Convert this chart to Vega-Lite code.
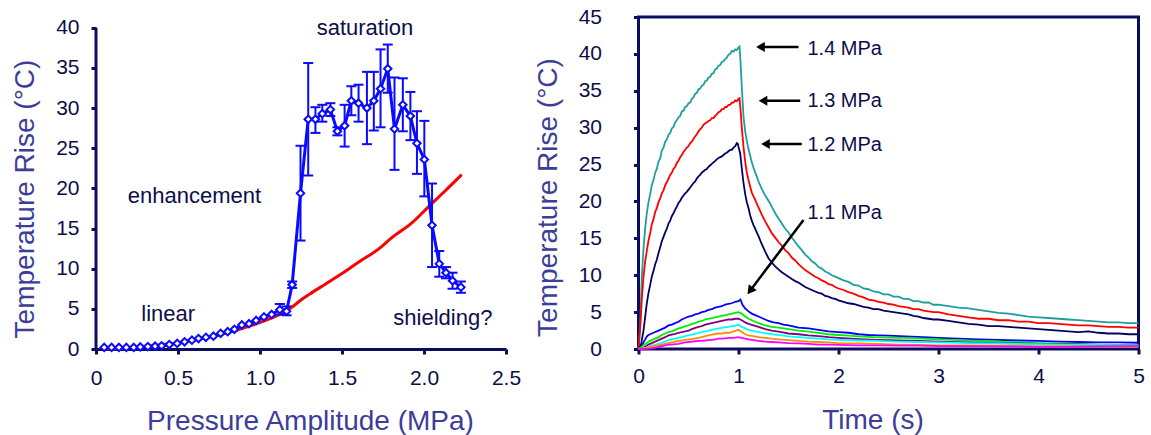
{
  "$schema": "https://vega.github.io/schema/vega-lite/v6.json",
  "background": "white",
  "padding": {"left": 11, "top": 4, "right": 5, "bottom": 0},
  "bounds": "flush",
  "spacing": 132.5,
  "config": {
    "font": "Liberation Sans",
    "view": {"stroke": null},
    "axis": {
      "labelFont": "Liberation Sans", "titleFont": "Liberation Sans",
      "labelFontSize": 21, "titleFontSize": 28, "titleFontWeight": "normal",
      "titleColor": "#3d3d99", "labelColor": "#0d0d4a",
      "domainColor": "#0d0d5e", "tickColor": "#0d0d5e",
      "domainWidth": 3, "tickWidth": 3, "tickSize": 5, "grid": false, "labelFlush": false, "labelOverlap": false, "labelBound": false
    }
  },
  "datasets": {
    "blue": [
      {"p":0.05,"t":0.2},{"p":0.095,"t":0.2},{"p":0.14,"t":0.2},{"p":0.185,"t":0.2},{"p":0.23,"t":0.2},
      {"p":0.27,"t":0.25},{"p":0.316,"t":0.3},{"p":0.36,"t":0.35},{"p":0.4,"t":0.4},{"p":0.447,"t":0.55},
      {"p":0.495,"t":0.7},{"p":0.54,"t":0.9},{"p":0.585,"t":1.1},{"p":0.625,"t":1.3},{"p":0.67,"t":1.45},
      {"p":0.716,"t":1.6},{"p":0.76,"t":1.95},{"p":0.803,"t":2.15},{"p":0.844,"t":2.45},{"p":0.889,"t":3.0},
      {"p":0.933,"t":3.15},{"p":0.976,"t":3.55},{"p":1.024,"t":4.0},{"p":1.071,"t":4.3},{"p":1.121,"t":4.9},
      {"p":1.162,"t":4.7},{"p":1.196,"t":8.0},{"p":1.247,"t":19.4},{"p":1.294,"t":28.6},{"p":1.338,"t":28.6},
      {"p":1.38,"t":29.3},{"p":1.429,"t":29.8},{"p":1.472,"t":27.1},{"p":1.516,"t":27.8},{"p":1.557,"t":30.9},
      {"p":1.601,"t":30.6},{"p":1.652,"t":30.0},{"p":1.694,"t":30.9},{"p":1.735,"t":32.4},{"p":1.779,"t":34.9},
      {"p":1.82,"t":27.4},{"p":1.871,"t":30.4},{"p":1.917,"t":29.0},{"p":1.957,"t":25.6},{"p":2.002,"t":23.6},
      {"p":2.049,"t":15.4},{"p":2.093,"t":10.6},{"p":2.134,"t":9.5},{"p":2.174,"t":8.5},{"p":2.225,"t":7.7}
    ],
    "errs": [
      {"p":1.121,"lo":4.3,"hi":5.6},{"p":1.162,"lo":4.2,"hi":5.3},{"p":1.196,"lo":7.6,"hi":8.4},
      {"p":1.247,"lo":13.5,"hi":25.3},{"p":1.294,"lo":21.6,"hi":35.6},{"p":1.338,"lo":26.9,"hi":30.1},
      {"p":1.38,"lo":28.3,"hi":30.4},{"p":1.429,"lo":29.0,"hi":30.6},{"p":1.472,"lo":26.6,"hi":27.6},
      {"p":1.516,"lo":25.2,"hi":30.4},{"p":1.557,"lo":29.1,"hi":32.7},{"p":1.601,"lo":28.3,"hi":32.9},
      {"p":1.652,"lo":25.5,"hi":34.5},{"p":1.694,"lo":27.2,"hi":34.5},{"p":1.735,"lo":27.6,"hi":37.3},
      {"p":1.779,"lo":31.9,"hi":37.9},{"p":1.82,"lo":22.3,"hi":33.8},{"p":1.871,"lo":27.1,"hi":33.7},
      {"p":1.917,"lo":26.0,"hi":32.0},{"p":1.957,"lo":21.8,"hi":29.6},{"p":2.002,"lo":19.0,"hi":28.4},
      {"p":2.049,"lo":10.2,"hi":20.6},{"p":2.093,"lo":9.0,"hi":12.2},{"p":2.134,"lo":8.8,"hi":10.2},
      {"p":2.174,"lo":7.5,"hi":9.5},{"p":2.225,"lo":7.0,"hi":8.4}
    ],
    "red": [
      {"p":0.05,"t":0.02},{"p":0.15,"t":0.1},{"p":0.25,"t":0.25},{"p":0.35,"t":0.45},{"p":0.45,"t":0.65},
      {"p":0.55,"t":0.95},{"p":0.65,"t":1.3},{"p":0.75,"t":1.75},{"p":0.85,"t":2.3},{"p":0.95,"t":2.95},
      {"p":1.05,"t":3.7},{"p":1.15,"t":4.6},{"p":1.2,"t":5.3},{"p":1.25,"t":6.1},{"p":1.3,"t":6.8},
      {"p":1.4,"t":8.1},{"p":1.5,"t":9.4},{"p":1.6,"t":10.8},{"p":1.72,"t":12.4},{"p":1.8,"t":13.8},
      {"p":1.926,"t":15.7},{"p":2.027,"t":17.7},{"p":2.13,"t":19.7},{"p":2.23,"t":21.7}
    ],
    "notesL": [
      {"p":1.64,"t":40.0,"label":"saturation"},
      {"p":0.6,"t":19.1,"label":"enhancement"},
      {"p":0.44,"t":4.3,"label":"linear"},
      {"p":2.115,"t":3.9,"label":"shielding?"}
    ],
    "axisL": [{"p":0,"t":0,"t2":40}],
    "arrows": [
      {"label":"1.4 MPa","tx":1.69,"ty":40.6,"ax":1.6,"ay":40.95,"hx":1.22,"hy":40.95},
      {"label":"1.3 MPa","tx":1.69,"ty":33.6,"ax":1.617,"ay":33.65,"hx":1.245,"hy":33.65},
      {"label":"1.2 MPa","tx":1.69,"ty":27.7,"ax":1.633,"ay":27.8,"hx":1.27,"hy":27.8},
      {"label":"1.1 MPa","tx":1.69,"ty":18.4,"ax":1.65,"ay":17.5,"hx":1.116,"hy":7.9}
    ],
    "curves": [
      {"s":"A","t":0,"v":0},{"s":"A","t":0.017,"v":3.0},{"s":"A","t":0.033,"v":9.8},{"s":"A","t":0.05,"v":13.6},{"s":"A","t":0.067,"v":16.4},{"s":"A","t":0.083,"v":18.4},{"s":"A","t":0.1,"v":19.9},{"s":"A","t":0.117,"v":21.0},{"s":"A","t":0.133,"v":22.2},{"s":"A","t":0.15,"v":22.9},{"s":"A","t":0.167,"v":23.9},{"s":"A","t":0.183,"v":24.4},{"s":"A","t":0.2,"v":25.4},{"s":"A","t":0.217,"v":25.8},{"s":"A","t":0.233,"v":26.9},{"s":"A","t":0.25,"v":27.3},{"s":"A","t":0.267,"v":28.1},{"s":"A","t":0.283,"v":28.4},{"s":"A","t":0.3,"v":29.0},{"s":"A","t":0.317,"v":29.3},{"s":"A","t":0.333,"v":29.9},{"s":"A","t":0.35,"v":30.1},{"s":"A","t":0.367,"v":30.7},{"s":"A","t":0.383,"v":31.0},{"s":"A","t":0.4,"v":31.4},{"s":"A","t":0.417,"v":31.6},{"s":"A","t":0.433,"v":32.2},{"s":"A","t":0.45,"v":32.3},{"s":"A","t":0.467,"v":32.8},{"s":"A","t":0.483,"v":32.9},{"s":"A","t":0.5,"v":33.3},{"s":"A","t":0.517,"v":33.4},{"s":"A","t":0.533,"v":33.9},{"s":"A","t":0.55,"v":34.1},{"s":"A","t":0.567,"v":34.6},{"s":"A","t":0.583,"v":34.7},{"s":"A","t":0.6,"v":35.2},{"s":"A","t":0.617,"v":35.3},{"s":"A","t":0.633,"v":35.7},{"s":"A","t":0.65,"v":35.8},{"s":"A","t":0.667,"v":36.3},{"s":"A","t":0.683,"v":36.4},{"s":"A","t":0.7,"v":36.8},{"s":"A","t":0.717,"v":36.9},{"s":"A","t":0.733,"v":37.3},{"s":"A","t":0.75,"v":37.4},{"s":"A","t":0.767,"v":37.9},{"s":"A","t":0.783,"v":38.0},{"s":"A","t":0.8,"v":38.4},{"s":"A","t":0.817,"v":38.5},{"s":"A","t":0.833,"v":38.9},{"s":"A","t":0.85,"v":39.0},{"s":"A","t":0.867,"v":39.3},{"s":"A","t":0.883,"v":39.5},{"s":"A","t":0.9,"v":39.9},{"s":"A","t":0.917,"v":40.0},{"s":"A","t":0.933,"v":40.4},{"s":"A","t":0.95,"v":40.3},{"s":"A","t":0.967,"v":40.6},{"s":"A","t":0.983,"v":40.5},{"s":"A","t":1.0,"v":40.9},{"s":"A","t":1.01,"v":41.0},{"s":"A","t":1.02,"v":39.0},{"s":"A","t":1.033,"v":35.5},{"s":"A","t":1.05,"v":31.5},{"s":"A","t":1.067,"v":29.5},{"s":"A","t":1.083,"v":28.2},{"s":"A","t":1.1,"v":27.1},{"s":"A","t":1.117,"v":26.2},{"s":"A","t":1.133,"v":25.3},{"s":"A","t":1.15,"v":24.6},{"s":"A","t":1.167,"v":23.9},{"s":"A","t":1.183,"v":23.4},{"s":"A","t":1.2,"v":22.7},{"s":"A","t":1.233,"v":21.7},{"s":"A","t":1.267,"v":20.8},{"s":"A","t":1.3,"v":20.1},{"s":"A","t":1.333,"v":19.3},{"s":"A","t":1.367,"v":18.4},{"s":"A","t":1.4,"v":17.7},{"s":"A","t":1.433,"v":17.0},{"s":"A","t":1.467,"v":16.3},{"s":"A","t":1.5,"v":15.8},{"s":"A","t":1.533,"v":15.1},{"s":"A","t":1.567,"v":14.5},{"s":"A","t":1.6,"v":13.9},{"s":"A","t":1.633,"v":13.4},{"s":"A","t":1.667,"v":12.8},{"s":"A","t":1.7,"v":12.4},{"s":"A","t":1.733,"v":11.9},{"s":"A","t":1.767,"v":11.6},{"s":"A","t":1.8,"v":11.1},{"s":"A","t":1.833,"v":10.9},{"s":"A","t":1.867,"v":10.5},{"s":"A","t":1.9,"v":10.3},{"s":"A","t":1.933,"v":10.0},{"s":"A","t":1.967,"v":9.8},{"s":"A","t":2.0,"v":9.6},{"s":"A","t":2.05,"v":9.3},{"s":"A","t":2.1,"v":9.1},{"s":"A","t":2.15,"v":8.7},{"s":"A","t":2.2,"v":8.6},{"s":"A","t":2.25,"v":8.2},{"s":"A","t":2.3,"v":8.1},{"s":"A","t":2.35,"v":7.8},{"s":"A","t":2.4,"v":7.7},{"s":"A","t":2.45,"v":7.4},{"s":"A","t":2.5,"v":7.4},{"s":"A","t":2.55,"v":7.1},{"s":"A","t":2.6,"v":7.1},{"s":"A","t":2.65,"v":6.8},{"s":"A","t":2.7,"v":6.8},{"s":"A","t":2.75,"v":6.5},{"s":"A","t":2.8,"v":6.5},{"s":"A","t":2.85,"v":6.3},{"s":"A","t":2.9,"v":6.3},{"s":"A","t":2.95,"v":6.0},{"s":"A","t":3.0,"v":6.0},{"s":"A","t":3.1,"v":5.8},{"s":"A","t":3.2,"v":5.6},{"s":"A","t":3.3,"v":5.5},{"s":"A","t":3.4,"v":5.3},{"s":"A","t":3.5,"v":5.1},{"s":"A","t":3.6,"v":4.9},{"s":"A","t":3.7,"v":4.8},{"s":"A","t":3.8,"v":4.6},{"s":"A","t":3.9,"v":4.4},{"s":"A","t":4.0,"v":4.3},{"s":"A","t":4.1,"v":4.2},{"s":"A","t":4.2,"v":4.1},{"s":"A","t":4.3,"v":4.0},{"s":"A","t":4.4,"v":3.9},{"s":"A","t":4.5,"v":3.8},{"s":"A","t":4.6,"v":3.7},{"s":"A","t":4.7,"v":3.6},{"s":"A","t":4.8,"v":3.6},{"s":"A","t":4.9,"v":3.5},{"s":"A","t":5.0,"v":3.5},

      {"s":"B","t":0,"v":0},{"s":"B","t":0.017,"v":3.0},{"s":"B","t":0.027,"v":5.3},{"s":"B","t":0.033,"v":6.8},{"s":"B","t":0.05,"v":9.8},{"s":"B","t":0.067,"v":11.9},{"s":"B","t":0.083,"v":13.3},{"s":"B","t":0.1,"v":14.7},{"s":"B","t":0.117,"v":15.7},{"s":"B","t":0.133,"v":16.9},{"s":"B","t":0.15,"v":17.6},{"s":"B","t":0.167,"v":18.6},{"s":"B","t":0.183,"v":19.1},{"s":"B","t":0.2,"v":19.9},{"s":"B","t":0.217,"v":20.4},{"s":"B","t":0.233,"v":21.1},{"s":"B","t":0.25,"v":21.5},{"s":"B","t":0.267,"v":22.2},{"s":"B","t":0.283,"v":22.6},{"s":"B","t":0.3,"v":23.1},{"s":"B","t":0.317,"v":23.6},{"s":"B","t":0.333,"v":23.9},{"s":"B","t":0.35,"v":24.4},{"s":"B","t":0.367,"v":24.7},{"s":"B","t":0.383,"v":25.2},{"s":"B","t":0.4,"v":25.5},{"s":"B","t":0.417,"v":26.0},{"s":"B","t":0.433,"v":26.3},{"s":"B","t":0.45,"v":26.7},{"s":"B","t":0.467,"v":27.0},{"s":"B","t":0.483,"v":27.3},{"s":"B","t":0.5,"v":27.5},{"s":"B","t":0.517,"v":27.9},{"s":"B","t":0.533,"v":28.1},{"s":"B","t":0.55,"v":28.5},{"s":"B","t":0.567,"v":28.8},{"s":"B","t":0.583,"v":29.1},{"s":"B","t":0.6,"v":29.5},{"s":"B","t":0.617,"v":29.8},{"s":"B","t":0.633,"v":30.0},{"s":"B","t":0.65,"v":30.4},{"s":"B","t":0.667,"v":30.6},{"s":"B","t":0.683,"v":30.7},{"s":"B","t":0.7,"v":30.9},{"s":"B","t":0.717,"v":31.0},{"s":"B","t":0.733,"v":31.3},{"s":"B","t":0.75,"v":31.3},{"s":"B","t":0.767,"v":31.6},{"s":"B","t":0.783,"v":31.8},{"s":"B","t":0.8,"v":32.1},{"s":"B","t":0.817,"v":32.2},{"s":"B","t":0.833,"v":32.5},{"s":"B","t":0.85,"v":32.5},{"s":"B","t":0.867,"v":32.8},{"s":"B","t":0.883,"v":32.8},{"s":"B","t":0.9,"v":33.1},{"s":"B","t":0.917,"v":33.1},{"s":"B","t":0.933,"v":33.4},{"s":"B","t":0.95,"v":33.4},{"s":"B","t":0.967,"v":33.7},{"s":"B","t":0.983,"v":33.6},{"s":"B","t":1.0,"v":33.9},{"s":"B","t":1.01,"v":34.0},{"s":"B","t":1.02,"v":32.5},{"s":"B","t":1.033,"v":30.0},{"s":"B","t":1.05,"v":27.4},{"s":"B","t":1.067,"v":25.4},{"s":"B","t":1.083,"v":23.9},{"s":"B","t":1.1,"v":22.9},{"s":"B","t":1.117,"v":22.0},{"s":"B","t":1.133,"v":21.2},{"s":"B","t":1.15,"v":20.7},{"s":"B","t":1.167,"v":20.2},{"s":"B","t":1.183,"v":19.7},{"s":"B","t":1.2,"v":19.2},{"s":"B","t":1.233,"v":18.2},{"s":"B","t":1.267,"v":17.3},{"s":"B","t":1.3,"v":16.5},{"s":"B","t":1.333,"v":15.7},{"s":"B","t":1.367,"v":15.1},{"s":"B","t":1.4,"v":14.5},{"s":"B","t":1.433,"v":14.0},{"s":"B","t":1.467,"v":13.4},{"s":"B","t":1.5,"v":13.0},{"s":"B","t":1.533,"v":12.4},{"s":"B","t":1.567,"v":12.0},{"s":"B","t":1.6,"v":11.5},{"s":"B","t":1.633,"v":11.1},{"s":"B","t":1.667,"v":10.7},{"s":"B","t":1.7,"v":10.4},{"s":"B","t":1.733,"v":10.1},{"s":"B","t":1.767,"v":9.8},{"s":"B","t":1.8,"v":9.6},{"s":"B","t":1.833,"v":9.3},{"s":"B","t":1.867,"v":9.1},{"s":"B","t":1.9,"v":8.8},{"s":"B","t":1.933,"v":8.7},{"s":"B","t":1.967,"v":8.4},{"s":"B","t":2.0,"v":8.2},{"s":"B","t":2.05,"v":8.0},{"s":"B","t":2.1,"v":7.7},{"s":"B","t":2.15,"v":7.5},{"s":"B","t":2.2,"v":7.2},{"s":"B","t":2.25,"v":7.0},{"s":"B","t":2.3,"v":6.7},{"s":"B","t":2.35,"v":6.6},{"s":"B","t":2.4,"v":6.4},{"s":"B","t":2.45,"v":6.3},{"s":"B","t":2.5,"v":6.1},{"s":"B","t":2.55,"v":6.0},{"s":"B","t":2.6,"v":5.8},{"s":"B","t":2.65,"v":5.7},{"s":"B","t":2.7,"v":5.6},{"s":"B","t":2.75,"v":5.4},{"s":"B","t":2.8,"v":5.4},{"s":"B","t":2.85,"v":5.2},{"s":"B","t":2.9,"v":5.1},{"s":"B","t":2.95,"v":5.0},{"s":"B","t":3.0,"v":5.0},{"s":"B","t":3.1,"v":4.7},{"s":"B","t":3.2,"v":4.5},{"s":"B","t":3.3,"v":4.3},{"s":"B","t":3.4,"v":4.1},{"s":"B","t":3.5,"v":4.1},{"s":"B","t":3.6,"v":3.9},{"s":"B","t":3.7,"v":3.9},{"s":"B","t":3.8,"v":3.7},{"s":"B","t":3.9,"v":3.7},{"s":"B","t":4.0,"v":3.5},{"s":"B","t":4.1,"v":3.5},{"s":"B","t":4.2,"v":3.4},{"s":"B","t":4.3,"v":3.3},{"s":"B","t":4.4,"v":3.2},{"s":"B","t":4.5,"v":3.2},{"s":"B","t":4.6,"v":3.1},{"s":"B","t":4.7,"v":3.0},{"s":"B","t":4.8,"v":3.0},{"s":"B","t":4.9,"v":2.9},{"s":"B","t":5.0,"v":2.9},

      {"s":"C","t":0,"v":0},{"s":"C","t":0.017,"v":0.3},{"s":"C","t":0.027,"v":0.7},{"s":"C","t":0.033,"v":1.2},{"s":"C","t":0.05,"v":2.5},{"s":"C","t":0.067,"v":4.4},{"s":"C","t":0.083,"v":6.2},{"s":"C","t":0.1,"v":7.6},{"s":"C","t":0.117,"v":8.7},{"s":"C","t":0.133,"v":9.8},{"s":"C","t":0.15,"v":10.6},{"s":"C","t":0.167,"v":11.5},{"s":"C","t":0.183,"v":12.1},{"s":"C","t":0.2,"v":13.0},{"s":"C","t":0.217,"v":13.8},{"s":"C","t":0.233,"v":14.6},{"s":"C","t":0.25,"v":15.2},{"s":"C","t":0.267,"v":15.8},{"s":"C","t":0.283,"v":16.3},{"s":"C","t":0.3,"v":17.0},{"s":"C","t":0.317,"v":17.4},{"s":"C","t":0.333,"v":18.0},{"s":"C","t":0.35,"v":18.4},{"s":"C","t":0.367,"v":18.9},{"s":"C","t":0.383,"v":19.3},{"s":"C","t":0.4,"v":19.8},{"s":"C","t":0.417,"v":20.1},{"s":"C","t":0.433,"v":20.5},{"s":"C","t":0.45,"v":20.8},{"s":"C","t":0.467,"v":21.1},{"s":"C","t":0.483,"v":21.3},{"s":"C","t":0.5,"v":21.6},{"s":"C","t":0.517,"v":21.9},{"s":"C","t":0.533,"v":22.2},{"s":"C","t":0.55,"v":22.5},{"s":"C","t":0.567,"v":22.7},{"s":"C","t":0.583,"v":23.1},{"s":"C","t":0.6,"v":23.4},{"s":"C","t":0.617,"v":23.6},{"s":"C","t":0.633,"v":23.9},{"s":"C","t":0.65,"v":24.1},{"s":"C","t":0.667,"v":24.3},{"s":"C","t":0.683,"v":24.4},{"s":"C","t":0.7,"v":24.7},{"s":"C","t":0.717,"v":24.9},{"s":"C","t":0.733,"v":25.1},{"s":"C","t":0.75,"v":25.3},{"s":"C","t":0.767,"v":25.5},{"s":"C","t":0.783,"v":25.7},{"s":"C","t":0.8,"v":25.9},{"s":"C","t":0.817,"v":26.0},{"s":"C","t":0.833,"v":26.1},{"s":"C","t":0.85,"v":26.3},{"s":"C","t":0.867,"v":26.5},{"s":"C","t":0.883,"v":26.6},{"s":"C","t":0.9,"v":26.8},{"s":"C","t":0.917,"v":27.0},{"s":"C","t":0.933,"v":27.0},{"s":"C","t":0.95,"v":27.3},{"s":"C","t":0.967,"v":27.5},{"s":"C","t":0.983,"v":27.9},{"s":"C","t":0.993,"v":27.8},{"s":"C","t":1.0,"v":27.4},{"s":"C","t":1.017,"v":26.5},{"s":"C","t":1.033,"v":24.5},{"s":"C","t":1.05,"v":22.5},{"s":"C","t":1.067,"v":21.0},{"s":"C","t":1.083,"v":19.9},{"s":"C","t":1.1,"v":19.1},{"s":"C","t":1.117,"v":18.1},{"s":"C","t":1.133,"v":17.4},{"s":"C","t":1.15,"v":16.8},{"s":"C","t":1.167,"v":16.3},{"s":"C","t":1.183,"v":15.8},{"s":"C","t":1.2,"v":15.3},{"s":"C","t":1.233,"v":14.2},{"s":"C","t":1.267,"v":13.2},{"s":"C","t":1.3,"v":12.3},{"s":"C","t":1.333,"v":11.7},{"s":"C","t":1.367,"v":11.2},{"s":"C","t":1.4,"v":10.8},{"s":"C","t":1.433,"v":10.4},{"s":"C","t":1.467,"v":10.1},{"s":"C","t":1.5,"v":9.8},{"s":"C","t":1.533,"v":9.5},{"s":"C","t":1.567,"v":9.2},{"s":"C","t":1.6,"v":9.0},{"s":"C","t":1.633,"v":8.7},{"s":"C","t":1.667,"v":8.4},{"s":"C","t":1.7,"v":8.2},{"s":"C","t":1.733,"v":8.0},{"s":"C","t":1.767,"v":7.8},{"s":"C","t":1.8,"v":7.6},{"s":"C","t":1.833,"v":7.5},{"s":"C","t":1.867,"v":7.2},{"s":"C","t":1.9,"v":7.1},{"s":"C","t":1.933,"v":6.9},{"s":"C","t":1.967,"v":6.8},{"s":"C","t":2.0,"v":6.6},{"s":"C","t":2.05,"v":6.4},{"s":"C","t":2.1,"v":6.2},{"s":"C","t":2.15,"v":6.1},{"s":"C","t":2.2,"v":5.9},{"s":"C","t":2.25,"v":5.7},{"s":"C","t":2.3,"v":5.6},{"s":"C","t":2.35,"v":5.4},{"s":"C","t":2.4,"v":5.4},{"s":"C","t":2.45,"v":5.2},{"s":"C","t":2.5,"v":5.1},{"s":"C","t":2.55,"v":5.0},{"s":"C","t":2.6,"v":4.9},{"s":"C","t":2.65,"v":4.8},{"s":"C","t":2.7,"v":4.7},{"s":"C","t":2.75,"v":4.5},{"s":"C","t":2.8,"v":4.4},{"s":"C","t":2.85,"v":4.2},{"s":"C","t":2.9,"v":4.1},{"s":"C","t":2.95,"v":4.0},{"s":"C","t":3.0,"v":4.0},{"s":"C","t":3.1,"v":3.8},{"s":"C","t":3.2,"v":3.6},{"s":"C","t":3.3,"v":3.4},{"s":"C","t":3.4,"v":3.3},{"s":"C","t":3.5,"v":3.1},{"s":"C","t":3.6,"v":3.1},{"s":"C","t":3.7,"v":3.0},{"s":"C","t":3.8,"v":2.9},{"s":"C","t":3.9,"v":2.8},{"s":"C","t":4.0,"v":2.7},{"s":"C","t":4.1,"v":2.6},{"s":"C","t":4.2,"v":2.5},{"s":"C","t":4.3,"v":2.4},{"s":"C","t":4.4,"v":2.3},{"s":"C","t":4.5,"v":2.4},{"s":"C","t":4.6,"v":2.2},{"s":"C","t":4.7,"v":2.1},{"s":"C","t":4.8,"v":2.1},{"s":"C","t":4.9,"v":2.0},{"s":"C","t":5.0,"v":2.0},

      {"s":"D","t":0,"v":0},{"s":"D","t":0.033,"v":0.4},{"s":"D","t":0.05,"v":0.9},{"s":"D","t":0.067,"v":1.3},{"s":"D","t":0.083,"v":1.7},{"s":"D","t":0.1,"v":1.9},{"s":"D","t":0.133,"v":2.1},{"s":"D","t":0.167,"v":2.3},{"s":"D","t":0.2,"v":2.5},{"s":"D","t":0.233,"v":2.7},{"s":"D","t":0.267,"v":2.9},{"s":"D","t":0.3,"v":3.2},{"s":"D","t":0.333,"v":3.3},{"s":"D","t":0.367,"v":3.5},{"s":"D","t":0.4,"v":3.7},{"s":"D","t":0.433,"v":4.0},{"s":"D","t":0.467,"v":4.2},{"s":"D","t":0.5,"v":4.4},{"s":"D","t":0.533,"v":4.5},{"s":"D","t":0.567,"v":4.7},{"s":"D","t":0.6,"v":4.8},{"s":"D","t":0.633,"v":5.0},{"s":"D","t":0.667,"v":5.1},{"s":"D","t":0.7,"v":5.3},{"s":"D","t":0.733,"v":5.4},{"s":"D","t":0.767,"v":5.6},{"s":"D","t":0.8,"v":5.7},{"s":"D","t":0.833,"v":5.8},{"s":"D","t":0.867,"v":6.0},{"s":"D","t":0.9,"v":6.1},{"s":"D","t":0.933,"v":6.2},{"s":"D","t":0.967,"v":6.4},{"s":"D","t":1.0,"v":6.5},{"s":"D","t":1.02,"v":6.7},{"s":"D","t":1.04,"v":6.0},{"s":"D","t":1.067,"v":5.5},{"s":"D","t":1.1,"v":5.1},{"s":"D","t":1.133,"v":4.8},{"s":"D","t":1.167,"v":4.6},{"s":"D","t":1.2,"v":4.4},{"s":"D","t":1.25,"v":4.1},{"s":"D","t":1.3,"v":3.8},{"s":"D","t":1.35,"v":3.6},{"s":"D","t":1.4,"v":3.5},{"s":"D","t":1.45,"v":3.3},{"s":"D","t":1.5,"v":3.2},{"s":"D","t":1.6,"v":2.9},{"s":"D","t":1.7,"v":2.8},{"s":"D","t":1.8,"v":2.6},{"s":"D","t":1.9,"v":2.4},{"s":"D","t":2.0,"v":2.3},{"s":"D","t":2.1,"v":2.2},{"s":"D","t":2.2,"v":2.0},{"s":"D","t":2.3,"v":1.9},{"s":"D","t":2.4,"v":1.85},{"s":"D","t":2.5,"v":1.8},{"s":"D","t":2.67,"v":1.7},{"s":"D","t":2.85,"v":1.6},{"s":"D","t":3.0,"v":1.5},{"s":"D","t":3.2,"v":1.4},{"s":"D","t":3.4,"v":1.3},{"s":"D","t":3.6,"v":1.25},{"s":"D","t":3.8,"v":1.15},{"s":"D","t":4.0,"v":1.1},{"s":"D","t":4.2,"v":1.0},{"s":"D","t":4.4,"v":0.95},{"s":"D","t":4.6,"v":0.9},{"s":"D","t":4.8,"v":0.9},{"s":"D","t":5.0,"v":0.85},

      {"s":"E","t":0,"v":0},{"s":"E","t":0.033,"v":0.3},{"s":"E","t":0.05,"v":0.5},{"s":"E","t":0.083,"v":0.8},{"s":"E","t":0.1,"v":1.0},{"s":"E","t":0.133,"v":1.2},{"s":"E","t":0.167,"v":1.4},{"s":"E","t":0.2,"v":1.6},{"s":"E","t":0.233,"v":1.9},{"s":"E","t":0.267,"v":2.1},{"s":"E","t":0.3,"v":2.3},{"s":"E","t":0.333,"v":2.4},{"s":"E","t":0.367,"v":2.6},{"s":"E","t":0.4,"v":2.8},{"s":"E","t":0.433,"v":2.9},{"s":"E","t":0.467,"v":3.1},{"s":"E","t":0.5,"v":3.2},{"s":"E","t":0.533,"v":3.4},{"s":"E","t":0.567,"v":3.5},{"s":"E","t":0.6,"v":3.7},{"s":"E","t":0.633,"v":3.8},{"s":"E","t":0.667,"v":4.0},{"s":"E","t":0.7,"v":4.1},{"s":"E","t":0.733,"v":4.2},{"s":"E","t":0.767,"v":4.3},{"s":"E","t":0.8,"v":4.4},{"s":"E","t":0.833,"v":4.5},{"s":"E","t":0.867,"v":4.6},{"s":"E","t":0.9,"v":4.7},{"s":"E","t":0.933,"v":4.8},{"s":"E","t":0.967,"v":4.9},{"s":"E","t":1.0,"v":5.0},{"s":"E","t":1.033,"v":4.8},{"s":"E","t":1.067,"v":4.4},{"s":"E","t":1.1,"v":4.1},{"s":"E","t":1.15,"v":3.8},{"s":"E","t":1.2,"v":3.5},{"s":"E","t":1.267,"v":3.2},{"s":"E","t":1.333,"v":3.0},{"s":"E","t":1.4,"v":2.9},{"s":"E","t":1.5,"v":2.7},{"s":"E","t":1.6,"v":2.5},{"s":"E","t":1.7,"v":2.35},{"s":"E","t":1.8,"v":2.2},{"s":"E","t":1.9,"v":2.0},{"s":"E","t":2.0,"v":1.9},{"s":"E","t":2.1,"v":1.8},{"s":"E","t":2.2,"v":1.7},{"s":"E","t":2.35,"v":1.6},{"s":"E","t":2.5,"v":1.55},{"s":"E","t":2.67,"v":1.5},{"s":"E","t":2.85,"v":1.4},{"s":"E","t":3.0,"v":1.3},{"s":"E","t":3.2,"v":1.2},{"s":"E","t":3.4,"v":1.1},{"s":"E","t":3.6,"v":1.0},{"s":"E","t":3.8,"v":0.9},{"s":"E","t":4.0,"v":0.8},{"s":"E","t":4.2,"v":0.75},{"s":"E","t":4.4,"v":0.7},{"s":"E","t":4.6,"v":0.6},{"s":"E","t":4.8,"v":0.55},{"s":"E","t":5.0,"v":0.5},

      {"s":"F","t":0,"v":0},{"s":"F","t":0.05,"v":0.15},{"s":"F","t":0.067,"v":0.3},{"s":"F","t":0.1,"v":0.6},{"s":"F","t":0.133,"v":0.8},{"s":"F","t":0.167,"v":1.0},{"s":"F","t":0.2,"v":1.2},{"s":"F","t":0.233,"v":1.4},{"s":"F","t":0.267,"v":1.6},{"s":"F","t":0.3,"v":1.85},{"s":"F","t":0.333,"v":1.95},{"s":"F","t":0.367,"v":2.05},{"s":"F","t":0.4,"v":2.2},{"s":"F","t":0.433,"v":2.3},{"s":"F","t":0.467,"v":2.4},{"s":"F","t":0.5,"v":2.5},{"s":"F","t":0.533,"v":2.7},{"s":"F","t":0.567,"v":2.85},{"s":"F","t":0.6,"v":3.0},{"s":"F","t":0.633,"v":3.1},{"s":"F","t":0.667,"v":3.3},{"s":"F","t":0.7,"v":3.4},{"s":"F","t":0.733,"v":3.5},{"s":"F","t":0.767,"v":3.6},{"s":"F","t":0.8,"v":3.7},{"s":"F","t":0.833,"v":3.8},{"s":"F","t":0.867,"v":3.9},{"s":"F","t":0.9,"v":4.0},{"s":"F","t":0.933,"v":4.0},{"s":"F","t":0.967,"v":4.1},{"s":"F","t":1.0,"v":4.1},{"s":"F","t":1.033,"v":3.9},{"s":"F","t":1.067,"v":3.6},{"s":"F","t":1.1,"v":3.4},{"s":"F","t":1.15,"v":3.2},{"s":"F","t":1.2,"v":3.0},{"s":"F","t":1.267,"v":2.7},{"s":"F","t":1.333,"v":2.5},{"s":"F","t":1.4,"v":2.35},{"s":"F","t":1.5,"v":2.1},{"s":"F","t":1.6,"v":2.0},{"s":"F","t":1.7,"v":1.85},{"s":"F","t":1.8,"v":1.75},{"s":"F","t":1.9,"v":1.6},{"s":"F","t":2.0,"v":1.5},{"s":"F","t":2.2,"v":1.35},{"s":"F","t":2.4,"v":1.25},{"s":"F","t":2.6,"v":1.15},{"s":"F","t":2.8,"v":1.1},{"s":"F","t":3.0,"v":1.0},{"s":"F","t":3.3,"v":0.9},{"s":"F","t":3.6,"v":0.8},{"s":"F","t":4.0,"v":0.7},{"s":"F","t":4.3,"v":0.65},{"s":"F","t":4.6,"v":0.55},{"s":"F","t":5.0,"v":0.5},

      {"s":"G","t":0,"v":0},{"s":"G","t":0.067,"v":0.1},{"s":"G","t":0.1,"v":0.3},{"s":"G","t":0.133,"v":0.45},{"s":"G","t":0.167,"v":0.55},{"s":"G","t":0.2,"v":0.7},{"s":"G","t":0.233,"v":0.85},{"s":"G","t":0.267,"v":1.0},{"s":"G","t":0.3,"v":1.2},{"s":"G","t":0.333,"v":1.3},{"s":"G","t":0.367,"v":1.4},{"s":"G","t":0.4,"v":1.5},{"s":"G","t":0.433,"v":1.6},{"s":"G","t":0.467,"v":1.75},{"s":"G","t":0.5,"v":1.85},{"s":"G","t":0.533,"v":1.95},{"s":"G","t":0.567,"v":2.05},{"s":"G","t":0.6,"v":2.2},{"s":"G","t":0.633,"v":2.3},{"s":"G","t":0.667,"v":2.4},{"s":"G","t":0.7,"v":2.5},{"s":"G","t":0.733,"v":2.6},{"s":"G","t":0.767,"v":2.7},{"s":"G","t":0.8,"v":2.8},{"s":"G","t":0.833,"v":2.85},{"s":"G","t":0.867,"v":2.95},{"s":"G","t":0.9,"v":3.0},{"s":"G","t":0.933,"v":3.1},{"s":"G","t":0.967,"v":3.15},{"s":"G","t":1.0,"v":3.3},{"s":"G","t":1.033,"v":3.0},{"s":"G","t":1.067,"v":2.8},{"s":"G","t":1.1,"v":2.6},{"s":"G","t":1.15,"v":2.45},{"s":"G","t":1.2,"v":2.3},{"s":"G","t":1.267,"v":2.15},{"s":"G","t":1.333,"v":2.0},{"s":"G","t":1.4,"v":1.9},{"s":"G","t":1.5,"v":1.7},{"s":"G","t":1.6,"v":1.6},{"s":"G","t":1.7,"v":1.5},{"s":"G","t":1.8,"v":1.4},{"s":"G","t":1.9,"v":1.3},{"s":"G","t":2.0,"v":1.25},{"s":"G","t":2.2,"v":1.15},{"s":"G","t":2.4,"v":1.1},{"s":"G","t":2.6,"v":1.0},{"s":"G","t":2.8,"v":0.95},{"s":"G","t":3.0,"v":0.9},{"s":"G","t":3.3,"v":0.8},{"s":"G","t":3.6,"v":0.75},{"s":"G","t":4.0,"v":0.65},{"s":"G","t":4.3,"v":0.6},{"s":"G","t":4.6,"v":0.55},{"s":"G","t":5.0,"v":0.5},

      {"s":"H","t":0,"v":0},{"s":"H","t":0.1,"v":0.2},{"s":"H","t":0.133,"v":0.35},{"s":"H","t":0.167,"v":0.45},{"s":"H","t":0.2,"v":0.5},{"s":"H","t":0.233,"v":0.6},{"s":"H","t":0.267,"v":0.7},{"s":"H","t":0.3,"v":0.8},{"s":"H","t":0.333,"v":0.9},{"s":"H","t":0.367,"v":1.0},{"s":"H","t":0.4,"v":1.1},{"s":"H","t":0.433,"v":1.15},{"s":"H","t":0.467,"v":1.25},{"s":"H","t":0.5,"v":1.3},{"s":"H","t":0.533,"v":1.35},{"s":"H","t":0.567,"v":1.45},{"s":"H","t":0.6,"v":1.5},{"s":"H","t":0.633,"v":1.6},{"s":"H","t":0.667,"v":1.75},{"s":"H","t":0.7,"v":1.85},{"s":"H","t":0.733,"v":1.95},{"s":"H","t":0.767,"v":2.05},{"s":"H","t":0.8,"v":2.1},{"s":"H","t":0.833,"v":2.1},{"s":"H","t":0.867,"v":2.2},{"s":"H","t":0.9,"v":2.2},{"s":"H","t":0.933,"v":2.3},{"s":"H","t":0.967,"v":2.45},{"s":"H","t":1.0,"v":2.6},{"s":"H","t":1.033,"v":2.3},{"s":"H","t":1.067,"v":2.0},{"s":"H","t":1.1,"v":1.85},{"s":"H","t":1.15,"v":1.75},{"s":"H","t":1.2,"v":1.6},{"s":"H","t":1.267,"v":1.5},{"s":"H","t":1.333,"v":1.4},{"s":"H","t":1.4,"v":1.3},{"s":"H","t":1.5,"v":1.2},{"s":"H","t":1.6,"v":1.1},{"s":"H","t":1.7,"v":1.0},{"s":"H","t":1.8,"v":0.95},{"s":"H","t":1.9,"v":0.9},{"s":"H","t":2.0,"v":0.8},{"s":"H","t":2.2,"v":0.75},{"s":"H","t":2.4,"v":0.7},{"s":"H","t":2.6,"v":0.6},{"s":"H","t":2.8,"v":0.55},{"s":"H","t":3.0,"v":0.5},{"s":"H","t":3.3,"v":0.5},{"s":"H","t":3.6,"v":0.45},{"s":"H","t":4.0,"v":0.4},{"s":"H","t":4.3,"v":0.4},{"s":"H","t":4.6,"v":0.35},{"s":"H","t":5.0,"v":0.3},

      {"s":"I","t":0,"v":0},{"s":"I","t":0.1,"v":0.05},{"s":"I","t":0.133,"v":0.1},{"s":"I","t":0.167,"v":0.2},{"s":"I","t":0.2,"v":0.3},{"s":"I","t":0.233,"v":0.4},{"s":"I","t":0.267,"v":0.5},{"s":"I","t":0.3,"v":0.6},{"s":"I","t":0.333,"v":0.6},{"s":"I","t":0.367,"v":0.65},{"s":"I","t":0.4,"v":0.7},{"s":"I","t":0.433,"v":0.8},{"s":"I","t":0.467,"v":0.9},{"s":"I","t":0.5,"v":0.95},{"s":"I","t":0.533,"v":1.0},{"s":"I","t":0.567,"v":1.05},{"s":"I","t":0.6,"v":1.1},{"s":"I","t":0.633,"v":1.1},{"s":"I","t":0.667,"v":1.15},{"s":"I","t":0.7,"v":1.2},{"s":"I","t":0.733,"v":1.25},{"s":"I","t":0.767,"v":1.3},{"s":"I","t":0.8,"v":1.4},{"s":"I","t":0.833,"v":1.4},{"s":"I","t":0.867,"v":1.45},{"s":"I","t":0.9,"v":1.5},{"s":"I","t":0.933,"v":1.5},{"s":"I","t":0.967,"v":1.55},{"s":"I","t":1.0,"v":1.6},{"s":"I","t":1.033,"v":1.5},{"s":"I","t":1.067,"v":1.4},{"s":"I","t":1.1,"v":1.3},{"s":"I","t":1.15,"v":1.2},{"s":"I","t":1.2,"v":1.1},{"s":"I","t":1.267,"v":1.0},{"s":"I","t":1.333,"v":0.95},{"s":"I","t":1.4,"v":0.9},{"s":"I","t":1.5,"v":0.8},{"s":"I","t":1.6,"v":0.75},{"s":"I","t":1.7,"v":0.7},{"s":"I","t":1.8,"v":0.6},{"s":"I","t":1.9,"v":0.6},{"s":"I","t":2.0,"v":0.55},{"s":"I","t":2.2,"v":0.5},{"s":"I","t":2.4,"v":0.5},{"s":"I","t":2.6,"v":0.45},{"s":"I","t":2.8,"v":0.45},{"s":"I","t":3.0,"v":0.4},{"s":"I","t":3.3,"v":0.4},{"s":"I","t":3.6,"v":0.35},{"s":"I","t":4.0,"v":0.3},{"s":"I","t":4.3,"v":0.3},{"s":"I","t":4.6,"v":0.35},{"s":"I","t":5.0,"v":0.4}
    ]
  },
  "hconcat": [
    {
      "width": 410,
      "height": 332,
      "view": {"stroke": null},
      "layer": [
        {
          "data": {"name": "axisL"},
          "mark": {"type": "rule", "color": "#0d0d5e", "strokeWidth": 3},
          "encoding": {
            "x": {"field": "p", "type": "quantitative", "scale": {"domain": [0, 2.5], "nice": false, "zero": false},
              "axis": {"values": [0, 0.5, 1, 1.5, 2, 2.5], "labelExpr": "datum.value == 0 ? '0' : format(datum.value, '.1f')", "title": "Pressure Amplitude (MPa)", "labelPadding": 13, "titlePadding": 19, "titleX": 214}},
            "y": {"field": "t", "type": "quantitative", "scale": {"domain": [0, 41.33], "nice": false},
              "axis": {"values": [0, 5, 10, 15, 20, 25, 30, 35, 40], "format": "d", "domain": false, "title": "Temperature Rise (°C)", "labelPadding": 12, "titlePadding": 16, "titleY": 181.5}},
            "y2": {"field": "t2"}
          }
        },
        {
          "data": {"name": "red"},
          "mark": {"type": "line", "color": "#ff0000", "strokeWidth": 3, "interpolate": "monotone"},
          "encoding": {"x": {"field": "p", "type": "quantitative"}, "y": {"field": "t", "type": "quantitative"}}
        },
        {
          "data": {"name": "errs"},
          "mark": {"type": "rule", "color": "#0a0aff", "strokeWidth": 2},
          "encoding": {"x": {"field": "p", "type": "quantitative"}, "y": {"field": "lo", "type": "quantitative"}, "y2": {"field": "hi"}}
        },
        {
          "data": {"name": "errs"},
          "mark": {"type": "tick", "orient": "horizontal", "size": 10, "thickness": 2, "color": "#0a0aff", "opacity": 1},
          "encoding": {"x": {"field": "p", "type": "quantitative"}, "y": {"field": "lo", "type": "quantitative"}}
        },
        {
          "data": {"name": "errs"},
          "mark": {"type": "tick", "orient": "horizontal", "size": 10, "thickness": 2, "color": "#0a0aff", "opacity": 1},
          "encoding": {"x": {"field": "p", "type": "quantitative"}, "y": {"field": "hi", "type": "quantitative"}}
        },
        {
          "data": {"name": "blue"},
          "mark": {"type": "line", "color": "#0a0aff", "strokeWidth": 3,
            "point": {"shape": "diamond", "filled": true, "fill": "white", "stroke": "#0a0aff", "strokeWidth": 2, "size": 55, "opacity": 1}},
          "encoding": {"x": {"field": "p", "type": "quantitative"}, "y": {"field": "t", "type": "quantitative"}}
        },
        {
          "data": {"name": "notesL"},
          "mark": {"type": "text", "fontSize": 22, "color": "#0d0d4a", "font": "Liberation Sans", "baseline": "middle", "align": "center"},
          "encoding": {"x": {"field": "p", "type": "quantitative"}, "y": {"field": "t", "type": "quantitative"}, "text": {"field": "label"}}
        }
      ]
    },
    {
      "width": 500,
      "height": 332,
      "view": {"stroke": "#0d0d5e", "strokeWidth": 3},
      "encoding": {
        "x": {"type": "quantitative", "scale": {"domain": [0, 5], "nice": false},
          "axis": {"values": [0, 1, 2, 3, 4, 5], "format": "d", "domain": false, "title": "Time (s)", "labelPadding": 11, "titlePadding": 20, "titleX": 234, "labelOverlap": false}},
        "y": {"type": "quantitative", "scale": {"domain": [0, 45], "nice": false},
          "axis": {"values": [0, 5, 10, 15, 20, 25, 30, 35, 40, 45], "tickCount": 10, "format": "d", "domain": false, "title": "Temperature Rise (°C)", "labelPadding": 32, "titlePadding": 16, "titleY": 180, "labelOverlap": false, "labelBound": false}}
      },
      "layer": [
        {
          "data": {"name": "curves"},
          "mark": {"type": "line", "strokeWidth": 1.8},
          "encoding": {
            "x": {"field": "t"},
            "y": {"field": "v"},
            "color": {"field": "s", "type": "nominal", "legend": null,
              "scale": {"domain": ["I", "H", "G", "F", "E", "D", "C", "B", "A"],
                "range": ["#ff00ff", "#ff8c00", "#00ffff", "#800080", "#00ee00", "#0000ff", "#000066", "#ff0000", "#1f9e9e"]}}
          }
        },
        {
          "data": {"name": "arrows"},
          "mark": {"type": "rule", "color": "black", "strokeWidth": 2.5},
          "encoding": {"x": {"field": "ax"}, "y": {"field": "ay"}, "x2": {"field": "hx"}, "y2": {"field": "hy"}}
        },
        {
          "data": {"name": "arrows"},
          "transform": [{"filter": "datum.label != '1.1 MPa'"}],
          "mark": {"type": "point", "shape": "triangle-left", "filled": true, "color": "black", "size": 100, "opacity": 1},
          "encoding": {"x": {"field": "hx"}, "y": {"field": "hy"}}
        },
        {
          "data": {"name": "arrows"},
          "transform": [{"filter": "datum.label == '1.1 MPa'"}],
          "mark": {"type": "point", "shape": "triangle-left", "filled": true, "color": "black", "size": 100, "opacity": 1, "angle": 307},
          "encoding": {"x": {"field": "hx"}, "y": {"field": "hy"}}
        },
        {
          "data": {"name": "arrows"},
          "mark": {"type": "text", "fontSize": 20, "color": "#0d0d4a", "font": "Liberation Sans", "align": "left", "baseline": "middle"},
          "encoding": {"x": {"field": "tx"}, "y": {"field": "ty"}, "text": {"field": "label"}}
        }
      ]
    }
  ]
}
